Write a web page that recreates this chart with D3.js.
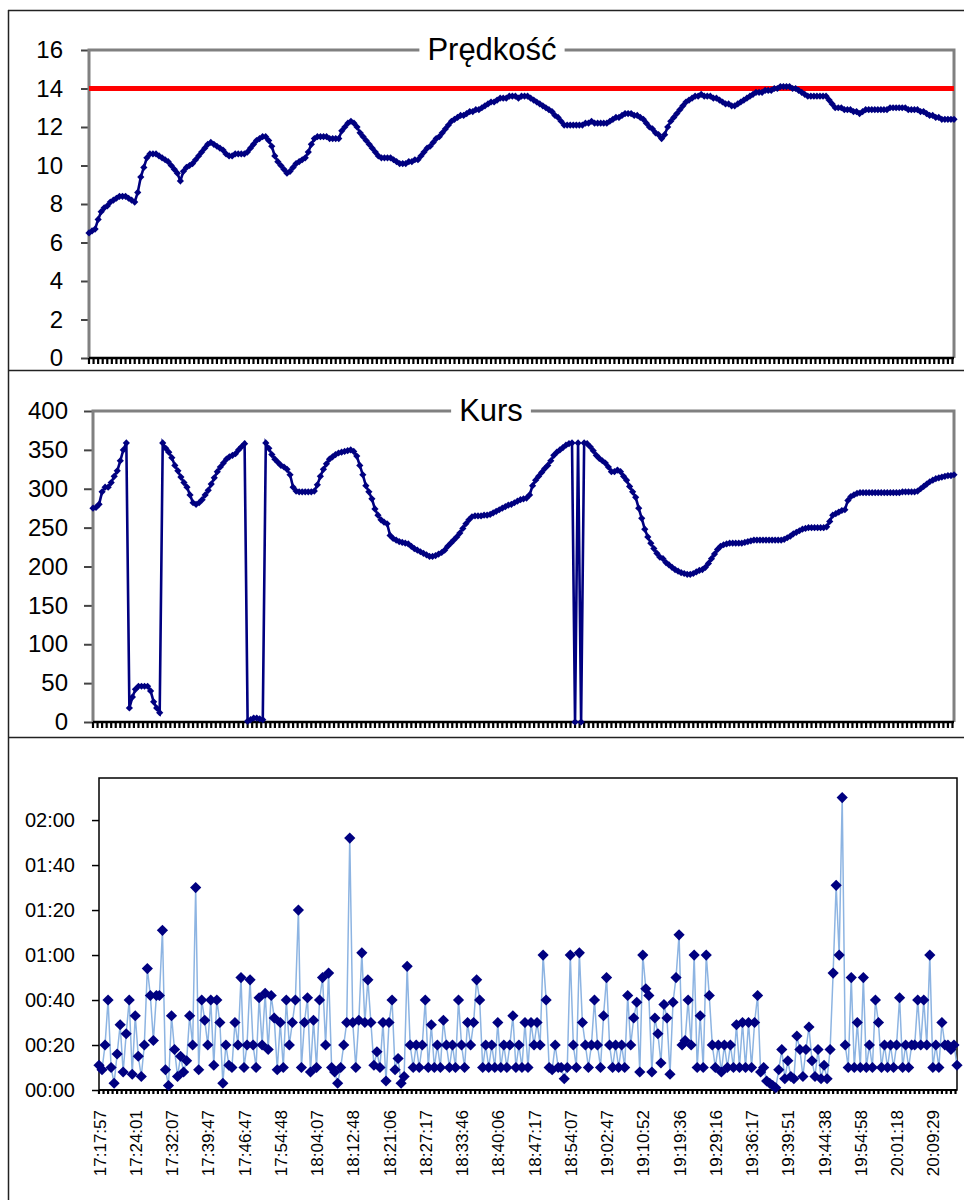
<!DOCTYPE html>
<html>
<head>
<meta charset="utf-8">
<script src="https://cdn.jsdelivr.net/npm/d3@7/dist/d3.min.js"></script>
<style>
  body { margin: 0; background: #fff; }
  text { font-family: "Liberation Sans", Arial, sans-serif; fill: #000; }
</style>
</head>
<body>
<svg id="chart" width="964" height="1200"></svg>
<script>
// ---- data ----
var speedTicks = [0, 2, 4, 6, 8, 10, 12, 14, 16];
var speedLimit = 14;
var speed = [
  6.5, 6.6, 6.7, 7.2, 7.6, 7.8, 7.9, 8.1, 8.2, 8.3,
  8.4, 8.4, 8.4, 8.3, 8.2, 8.1, 8.6, 9.4, 9.9, 10.4,
  10.6, 10.6, 10.6, 10.5, 10.4, 10.3, 10.2, 10.0, 9.8, 9.6,
  9.2, 9.7, 9.9, 10.0, 10.1, 10.3, 10.5, 10.7, 10.9, 11.1,
  11.2, 11.1, 11.0, 10.9, 10.8, 10.6, 10.5, 10.5, 10.6, 10.6,
  10.6, 10.6, 10.7, 10.9, 11.1, 11.3, 11.4, 11.5, 11.5, 11.3,
  11.0, 10.5, 10.2, 10.0, 9.8, 9.6, 9.7, 9.9, 10.1, 10.2,
  10.3, 10.4, 10.7, 11.1, 11.4, 11.5, 11.5, 11.5, 11.5, 11.4,
  11.4, 11.4, 11.4, 11.8, 12.0, 12.2, 12.3, 12.2, 12.0, 11.7,
  11.5, 11.3, 11.1, 10.9, 10.7, 10.5, 10.4, 10.4, 10.4, 10.4,
  10.3, 10.2, 10.1, 10.1, 10.1, 10.2, 10.2, 10.3, 10.3, 10.5,
  10.7, 10.9, 11.0, 11.2, 11.4, 11.5, 11.7, 11.9, 12.1, 12.3,
  12.4, 12.5, 12.6, 12.6, 12.7, 12.8, 12.8, 12.9, 12.9, 13.0,
  13.1, 13.2, 13.3, 13.3, 13.4, 13.5, 13.5, 13.5, 13.6, 13.6,
  13.6, 13.5, 13.6, 13.6, 13.6, 13.5, 13.4, 13.3, 13.2, 13.1,
  13.0, 12.9, 12.8, 12.6, 12.5, 12.3, 12.1, 12.1, 12.1, 12.1,
  12.1, 12.1, 12.1, 12.2, 12.2, 12.3, 12.2, 12.2, 12.2, 12.2,
  12.2, 12.3, 12.4, 12.5, 12.5, 12.6, 12.7, 12.7, 12.7, 12.6,
  12.6, 12.5, 12.4, 12.2, 12.0, 11.9, 11.7, 11.6, 11.4, 11.6,
  12.0, 12.3, 12.5, 12.7, 12.9, 13.1, 13.3, 13.4, 13.5, 13.6,
  13.6, 13.7, 13.6, 13.6, 13.6, 13.5, 13.5, 13.4, 13.3, 13.2,
  13.2, 13.1, 13.1, 13.2, 13.3, 13.4, 13.5, 13.6, 13.7, 13.8,
  13.8, 13.8, 13.9, 13.9, 13.9, 14.0, 14.0, 14.1, 14.1, 14.1,
  14.1, 14.0, 14.0, 13.9, 13.8, 13.7, 13.6, 13.6, 13.6, 13.6,
  13.6, 13.6, 13.6, 13.4, 13.2, 13.0, 13.0, 13.0, 12.9, 12.9,
  12.9, 12.8, 12.8, 12.7, 12.8, 12.9, 12.9, 12.9, 12.9, 12.9,
  12.9, 12.9, 12.9, 13.0, 13.0, 13.0, 13.0, 13.0, 13.0, 12.9,
  12.9, 12.9, 12.9, 12.8, 12.8, 12.7, 12.6, 12.6, 12.5, 12.5,
  12.4, 12.4, 12.4, 12.4, 12.4
];

var courseTicks = [0, 50, 100, 150, 200, 250, 300, 350, 400];
var course = [
  275, 276, 280, 296, 302, 302, 308, 316, 323, 336,
  350, 359, 18, 32, 42, 46, 46, 46, 46, 40,
  26, 18, 12, 359, 352, 347, 340, 330, 323, 315,
  308, 302, 292, 282, 280, 282, 286, 292, 298, 306,
  314, 322, 328, 333, 338, 341, 343, 345, 350, 354,
  358, 1, 3, 5, 5, 4, 3, 359, 352, 344,
  338, 334, 330, 328, 325, 318, 302, 297, 296, 296,
  296, 296, 296, 297, 305, 316, 325, 332, 338, 341,
  344, 346, 347, 348, 349, 350, 348, 342, 330, 318,
  304, 296, 287, 274, 266, 260, 257, 255, 240, 236,
  234, 232, 231, 230, 229, 226, 223, 221, 219, 217,
  215, 213, 213, 214, 216, 218, 221, 226, 230, 234,
  238, 243, 249, 255, 260, 264, 265, 265, 265, 266,
  266, 267, 269, 271, 273, 275, 277, 279, 280, 282,
  284, 286, 287, 288, 292, 304, 311, 316, 321, 326,
  330, 336, 343, 347, 350, 353, 356, 358, 359, 0,
  359, 0, 359, 358, 354, 349, 343, 339, 336, 333,
  328, 322, 322, 324, 322, 316, 311, 303, 296, 289,
  275, 262, 248, 238, 230, 223, 217, 212, 210, 205,
  202, 199, 196, 194, 192, 191, 190, 190, 191, 193,
  195, 196, 199, 204, 210, 216, 222, 226, 228, 229,
  230, 230, 230, 230, 230, 231, 232, 233, 234, 234,
  234, 234, 234, 234, 234, 234, 234, 234, 235, 237,
  239, 242, 244, 246, 248, 249, 250, 250, 250, 250,
  250, 250, 251, 258, 266, 268, 270, 272, 273, 285,
  290, 292, 294, 295, 295, 295, 295, 295, 295, 295,
  295, 295, 295, 295, 295, 295, 295, 296, 296, 296,
  296, 296, 297, 300, 303, 306, 309, 311, 313, 314,
  315, 316, 317, 317, 318
];

// seconds between consecutive records
var gapTicks = [0, 20, 40, 60, 80, 100, 120];
var gapTickLabels = ["00:00", "00:20", "00:40", "01:00", "01:20", "01:40", "02:00"];
var gapMax = 138.7;
var gapSec = [
  11, 9, 20, 40, 10, 3, 16, 29, 8, 25,
  40, 7, 33, 15, 6, 20, 54, 42, 22, 42,
  42, 71, 9, 2, 33, 18, 6, 15, 8, 13,
  33, 20, 90, 9, 40, 31, 20, 40, 11, 40,
  30, 3, 20, 11, 10, 30, 20, 50, 10, 20,
  49, 20, 10, 41, 20, 43, 18, 42, 32, 9,
  30, 10, 40, 20, 30, 40, 80, 10, 30, 41,
  8, 31, 10, 40, 50, 20, 52, 10, 8, 3,
  10, 20, 30, 112, 30, 10, 31, 61, 30, 49,
  30, 11, 17, 10, 30, 4, 30, 40, 9, 14,
  3, 6, 55, 20, 10, 20, 10, 20, 40, 10,
  29, 10, 20, 10, 31, 20, 10, 20, 10, 40,
  20, 10, 30, 20, 30, 49, 40, 10, 20, 10,
  20, 10, 30, 10, 20, 10, 20, 33, 10, 20,
  10, 30, 10, 30, 20, 30, 20, 60, 40, 10,
  9, 20, 10, 10, 5, 10, 60, 20, 10, 61,
  30, 20, 10, 20, 40, 20, 10, 33, 50, 20,
  10, 20, 10, 20, 10, 42, 20, 32, 39, 8,
  60, 45, 42, 8, 32, 25, 12, 38, 32, 7,
  39, 50, 69, 20, 22, 40, 20, 60, 10, 33,
  10, 60, 42, 20, 10, 20, 8, 20, 10, 20,
  10, 29, 10, 30, 10, 30, 10, 30, 42, 8,
  10, 4, 3, 2, 1, 9, 18, 5, 13, 6,
  5, 24, 18, 6, 18, 28, 13, 6, 18, 5,
  11, 5, 18, 52, 91, 60, 130, 20, 10, 50,
  10, 30, 10, 50, 10, 20, 10, 40, 30, 10,
  20, 10, 20, 10, 20, 41, 10, 20, 10, 20,
  20, 40, 20, 40, 20, 60, 10, 20, 10, 30,
  20, 20, 18, 20, 11
];
var timeLabels = [
  "17:17:57", "17:24:01", "17:32:07", "17:39:47", "17:46:47", "17:54:48",
  "18:04:07", "18:12:48", "18:21:06", "18:27:17", "18:33:46", "18:40:06",
  "18:47:17", "18:54:07", "19:02:47", "19:10:52", "19:19:36", "19:29:16",
  "19:36:17", "19:39:51", "19:44:38", "19:54:58", "20:01:18", "20:09:29"
];
var labelEvery = 12;     // categories between time labels
var tickEvery = 1.5;     // categories between small axis ticks

var navy = "#000080";
var svg = d3.select("#chart");

// outer frames of the three charts
var frame = svg.append("g").attr("stroke", "#222").attr("stroke-width", 1.5);
frame.append("line").attr("x1", 8).attr("x2", 964).attr("y1", 10.5).attr("y2", 10.5);
frame.append("line").attr("x1", 8.5).attr("x2", 8.5).attr("y1", 10).attr("y2", 1200);
frame.append("line").attr("x1", 8).attr("x2", 964).attr("y1", 370.5).attr("y2", 370.5);
frame.append("line").attr("x1", 8).attr("x2", 964).attr("y1", 737.5).attr("y2", 737.5);

function diamond(r) {
  return "M0," + (-r) + "L" + r + ",0L0," + r + "L" + (-r) + ",0Z";
}

function bottomTicks(g, x, n, yAxis, len, w) {
  var ticks = d3.range(0, n - 1 + 0.001, tickEvery);
  g.append("g").selectAll("line")
    .data(ticks).enter().append("line")
    .attr("x1", d => x(d)).attr("x2", d => x(d))
    .attr("y1", yAxis).attr("y2", yAxis + len)
    .attr("stroke", "#000").attr("stroke-width", w);
}

// Excel-like line chart for speed and course
function linePanel(o) {
  var g = svg.append("g");
  var x = d3.scaleLinear().domain([0, o.values.length - 1]).range([o.left, o.right]);
  var y = d3.scaleLinear().domain([0, o.ticks[o.ticks.length - 1]]).range([o.bottom, o.top]);

  var ax = g.append("g")
    .attr("transform", `translate(${o.left}, 0)`)
    .call(d3.axisLeft(y).tickValues(o.ticks).tickSize(o.tickSize).tickPadding(o.pad));
  ax.select(".domain").remove();
  ax.selectAll(".tick line").attr("stroke", "#444").attr("stroke-width", 2);
  ax.selectAll(".tick text").attr("font-size", 24).style("font-family", "Liberation Sans, Arial, sans-serif");

  // plot frame: gray on top/left/right, black category axis at bottom
  g.append("path")
    .attr("d", `M${o.left},${o.bottom}V${o.top}H${o.right}V${o.bottom}`)
    .attr("fill", "none").attr("stroke", "#808080").attr("stroke-width", 3);
  g.append("line")
    .attr("x1", o.left).attr("x2", o.right).attr("y1", o.bottom).attr("y2", o.bottom)
    .attr("stroke", "#000").attr("stroke-width", 2.5);
  bottomTicks(g, x, o.values.length, o.bottom, 6, 2.2);

  if (o.limit !== undefined) {
    g.append("line")
      .attr("x1", o.left).attr("x2", o.right)
      .attr("y1", y(o.limit)).attr("y2", y(o.limit))
      .attr("stroke", "#ff0000").attr("stroke-width", 5);
  }

  g.append("path")
    .datum(o.values)
    .attr("fill", "none").attr("stroke", navy).attr("stroke-width", 2.6)
    .attr("d", d3.line().x((d, i) => x(i)).y(d => y(d)));

  g.append("g").selectAll("path")
    .data(o.values).enter().append("path")
    .attr("d", diamond(3.6))
    .attr("transform", (d, i) => `translate(${x(i)}, ${y(d)})`)
    .attr("fill", navy);

  // title sitting on the top border, with a white patch behind it
  var patch = g.append("rect").attr("fill", "#fff");
  var t = g.append("text")
    .attr("x", o.titleX).attr("y", o.top + 10)
    .attr("text-anchor", "middle").attr("font-size", 31)
    .text(o.title);
  var bb = t.node().getBBox();
  patch.attr("x", bb.x - 8).attr("y", o.top - 4)
    .attr("width", bb.width + 16).attr("height", 8);
}

linePanel({ values: speed, ticks: speedTicks, left: 89, right: 954, top: 50, bottom: 358,
  tickSize: 8, pad: 18, title: "Prędkość", titleX: 492, limit: speedLimit });
linePanel({ values: course, ticks: courseTicks, left: 93, right: 954, top: 411, bottom: 722,
  tickSize: 9, pad: 16, title: "Kurs", titleX: 491 });

// ---- time between records ----
(function () {
  var left = 99, right = 957, top = 778, bottom = 1090;
  var g = svg.append("g");
  var x = d3.scaleLinear().domain([0, gapSec.length - 1]).range([left, right]);
  var y = d3.scaleLinear().domain([0, gapMax]).range([bottom, top]);

  g.append("rect")
    .attr("x", left).attr("y", top).attr("width", right - left).attr("height", bottom - top)
    .attr("fill", "none").attr("stroke", "#000").attr("stroke-width", 1.5);

  var ax = g.append("g")
    .attr("transform", `translate(${left}, 0)`)
    .call(d3.axisLeft(y).tickValues(gapTicks).tickSize(7).tickPadding(17)
      .tickFormat((d, i) => gapTickLabels[i]));
  ax.select(".domain").remove();
  ax.selectAll(".tick line").attr("stroke", "#000").attr("stroke-width", 1.5);
  ax.selectAll(".tick text").attr("font-size", 20).style("font-family", "Liberation Sans, Arial, sans-serif");

  g.append("line")
    .attr("x1", left).attr("x2", right).attr("y1", bottom).attr("y2", bottom)
    .attr("stroke", "#000").attr("stroke-width", 2);
  bottomTicks(g, x, gapSec.length, bottom, 4, 2.2);

  g.append("path")
    .datum(gapSec)
    .attr("fill", "none").attr("stroke", "#8db4e2").attr("stroke-width", 1.5)
    .attr("d", d3.line().x((d, i) => x(i)).y(d => y(d)));

  g.append("g").selectAll("path")
    .data(gapSec).enter().append("path")
    .attr("d", diamond(5.6))
    .attr("transform", (d, i) => `translate(${x(i)}, ${y(d)})`)
    .attr("fill", navy);

  g.append("g").selectAll("text")
    .data(timeLabels).enter().append("text")
    .attr("transform", (d, k) => `translate(${x(k * labelEvery) + 6.5}, 1110) rotate(-90)`)
    .attr("text-anchor", "end").attr("font-size", 17)
    .text(d => d);
})();
</script>
</body>
</html>
